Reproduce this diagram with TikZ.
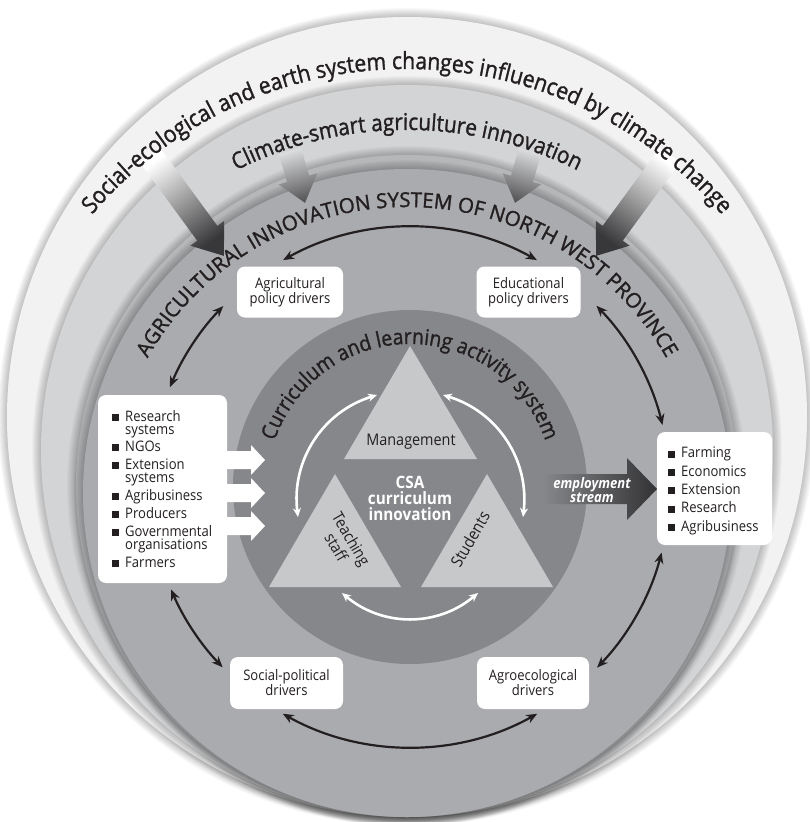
\documentclass[tikz,border=0pt]{standalone}
\usepackage{fontspec}
\setmainfont{Open Sans}[FakeStretch=0.9]
\newfontfamily\arcfont{Open Sans}[FakeStretch=0.9,FakeBold=1.3]
\newfontfamily\capfont{Open Sans}[FakeBold=1.4]
\usetikzlibrary{arrows.meta,calc,decorations.text}

\definecolor{ringA}{HTML}{F2F2F3}
\definecolor{ringB}{HTML}{D3D4D6}
\definecolor{ringC}{HTML}{B6B7B9}
\definecolor{ringD}{HTML}{AAABAE}
\definecolor{coreC}{HTML}{86878A}
\definecolor{triC}{HTML}{C7C8CA}
\definecolor{inkC}{HTML}{231F20}
\definecolor{headC}{HTML}{38383A}

\newcommand{\glowdisk}[3]{%
  \foreach \k in {1,...,10}{\fill[black,opacity=0.022] (#1) circle ({#2+\k*0.9});}%
  \fill[#3] (#1) circle (#2);}

\newcommand{\gradarrow}[8]{%
  \pgfmathsetmacro{\gaL}{#3-#6}%
  \pgfmathsetmacro{\gaS}{#2-90}%
  \shade[top color=#8,bottom color=#7,shading angle=\gaS]
    ($(#1)+(#2+90:#4)$) -- ($(#1)+(#2:\gaL)+(#2+90:#4)$) -- ($(#1)+(#2:\gaL)+(#2+90:#5)$)
    -- ($(#1)+(#2:#3)$) -- ($(#1)+(#2:\gaL)+(#2-90:#5)$) -- ($(#1)+(#2:\gaL)+(#2-90:#4)$)
    -- ($(#1)+(#2-90:#4)$) -- cycle;}

\newcommand{\sqb}{\makebox[13pt][l]{\rule[0.3pt]{7pt}{7pt}}}
\newcommand{\sqn}{\makebox[13pt][l]{}}
\newcommand{\tightlines}{\lineskiplimit=-20pt\relax}

\begin{document}
\begin{tikzpicture}[x=1pt,y=1pt,
  font=\fontsize{14.5}{15}\selectfont,
  wbox/.style={fill=white,rounded corners=8pt,inner sep=0pt,text=inkC,align=center},
  blk/.style={draw=inkC,line width=2.2pt,{Stealth[length=11pt,width=9pt]}-{Stealth[length=11pt,width=9pt]}},
  warr/.style={draw=white,line width=2.6pt,{Stealth[length=9pt,width=8pt]}-{Stealth[length=9pt,width=8pt]}}]
\useasboundingbox (0,0) rectangle (810,-822);
\fill[white] (0,0) rectangle (810,-822);

% ---- ring centres
\coordinate (cO) at (407,-417);
\coordinate (cB) at (407,-451);
\coordinate (cC) at (407,-486);
\coordinate (cD) at (407,-493);
\coordinate (cE) at (410,-487);

\glowdisk{cO}{400}{ringA}
\glowdisk{cB}{366}{ringB}
\glowdisk{cC}{331}{ringC}
\glowdisk{cD}{324}{ringD}

% ---- big gradient arrows
\coordinate (ga1) at (150,-155);
\coordinate (ga2) at (290,-151);
\coordinate (ga3) at (530,-151);
\coordinate (ga4) at (670,-155);
\gradarrow{ga1}{-53.8}{125}{12.5}{21}{28}{white}{headC}
\gradarrow{ga4}{-126.2}{125}{12.5}{21}{28}{white}{headC}
\gradarrow{ga2}{-73.9}{54}{11.5}{20}{25}{ringB!80!white}{headC!85!white}
\gradarrow{ga3}{-106.1}{54}{11.5}{20}{25}{ringB!80!white}{headC!85!white}

% ---- arc texts
\coordinate (tO) at (407,-482);
\coordinate (tB) at (407,-510);
\coordinate (tC) at (407,-505);
\path[decorate,decoration={text along path,text align=center,text color=inkC,
  text={|\arcfont\fontsize{23.5}{23.5}\selectfont|Social-ecological and earth system changes influenced by climate change}}]
  ($(tO)+(175:413)$) arc[start angle=175,end angle=5,radius=413];
\path[decorate,decoration={text along path,text align=center,text color=inkC,
  text={|\arcfont\fontsize{23}{23}\selectfont|Climate-smart agriculture innovation}}]
  ($(tB)+(170:380)$) arc[start angle=170,end angle=10,radius=380];
\path[decorate,decoration={text along path,text align=center,text color=inkC,
  text={|\capfont\fontsize{20.5}{20.5}\selectfont|AGRICULTURAL INNOVATION SYSTEM OF NORTH WEST PROVINCE}}]
  ($(tC)+(180:298)$) arc[start angle=180,end angle=0,radius=298];

% ---- core circle
\fill[coreC] (cE) circle (177);
\path[decorate,decoration={text along path,text align=center,text color=inkC,
  text={|\arcfont\fontsize{21.5}{21.5}\selectfont|Curriculum and learning activity system}}]
  ($(cE)+(195:143)$) arc[start angle=195,end angle=-15,radius=143];

% ---- employment stream arrow
\shade[left color=coreC,right color=headC!90!black]
  (543,-474) -- (627,-474) -- (627,-458) -- (657,-489) -- (627,-520) -- (627,-504) -- (543,-504) -- cycle;
\node[text=white,font=\bfseries\itshape\fontsize{14.5}{14}\selectfont,align=center] (emp) at (592,-490) {employment\\stream};

% ---- white input arrows
\foreach \yy in {460,493,526}{
  \fill[white] (224,-\yy+9) -- (251,-\yy+9) -- (251,-\yy+15) -- (265,-\yy) -- (251,-\yy-15) -- (251,-\yy-9) -- (224,-\yy-9) -- cycle;}

% ---- triangles
\fill[triC] (410,-346) -- (344,-459) -- (477,-459) -- cycle;
\fill[triC] (335,-474) -- (269,-587) -- (401,-587) -- cycle;
\fill[triC] (487,-474) -- (421,-587) -- (553,-587) -- cycle;
\node[text=inkC,font=\fontsize{16}{16}\selectfont] (mgmt) at (411,-442) {Management};
\node[text=inkC,font=\fontsize{16}{14}\selectfont,rotate=-60,align=center] (teach) at (344,-543) {Teaching\\staff};
\node[text=inkC,font=\fontsize{16.5}{16}\selectfont,rotate=60] (stud) at (470,-539) {Students};
\node[text=white,font=\bfseries\fontsize{17}{16}\selectfont,align=center] (csa) at (410,-498) {CSA\\curriculum\\innovation};

% ---- white arcs
\coordinate (wa1) at (377,-395); \coordinate (wb1) at (298,-517);
\coordinate (wa2) at (443,-395); \coordinate (wb2) at (523,-517);
\coordinate (wa3) at (342,-593); \coordinate (wb3) at (478,-593);
\draw[warr] (wa1) to[bend right=40] (wb1);
\draw[warr] (wa2) to[bend left=40] (wb2);
\draw[warr] (wa3) to[bend right=40] (wb3);

% ---- boxes
\node[wbox,minimum width=106,minimum height=51] (agri) at (290,-292) {Agricultural\\policy drivers};
\node[wbox,minimum width=104,minimum height=51] (edu) at (528.5,-292) {Educational\\policy drivers};
\node[wbox,minimum width=113,minimum height=52] (socpol) at (286.5,-683) {Social-political\\drivers};
\node[wbox,minimum width=112,minimum height=52] (agroeco) at (533,-683) {Agroecological\\drivers};
\node[wbox,minimum width=129,minimum height=188] (inputs) at (162.5,-489) {};
\node[wbox,minimum width=115,minimum height=113] (outputs) at (714.5,-488.5) {};
\node[anchor=west,align=left,inner sep=0pt,text=inkC,font=\fontsize{14.5}{13}\selectfont\tightlines] (inputsText) at (112,-489)
  {\sqb Research\\\sqn systems\\[4pt]\sqb NGOs\\[5pt]\sqb Extension\\\sqn systems\\[5pt]\sqb Agribusiness\\[5pt]\sqb Producers\\[5pt]\sqb Governmental\\\sqn organisations\\[5pt]\sqb Farmers};
\node[anchor=west,align=left,inner sep=0pt,text=inkC,font=\fontsize{14.5}{18.3}\selectfont] (outputsText) at (668,-491)
  {\sqb Farming\\\sqb Economics\\\sqb Extension\\\sqb Research\\\sqb Agribusiness};

% ---- black double arrows on the driver circle
\coordinate (b1s) at ($(cE)+(119.2:260)$);
\coordinate (b2s) at ($(cE)+(44.2:260)$);
\coordinate (b3s) at ($(cE)+(-14.6:260)$);
\coordinate (b4s) at ($(cE)+(-60.7:260)$);
\coordinate (b5s) at ($(cE)+(-136.1:260)$);
\coordinate (b6s) at ($(cE)+(157.4:260)$);
\draw[blk] (b1s) arc[start angle=119.2,end angle=60.8,radius=260];
\draw[blk] (b2s) arc[start angle=44.2,end angle=13.8,radius=260];
\draw[blk] (b3s) arc[start angle=-14.6,end angle=-44,radius=260];
\draw[blk] (b4s) arc[start angle=-60.7,end angle=-119.3,radius=260];
\draw[blk] (b5s) arc[start angle=-136.1,end angle=-156.8,radius=260];
\draw[blk] (b6s) arc[start angle=157.4,end angle=135.9,radius=260];
\end{tikzpicture}
\end{document}
